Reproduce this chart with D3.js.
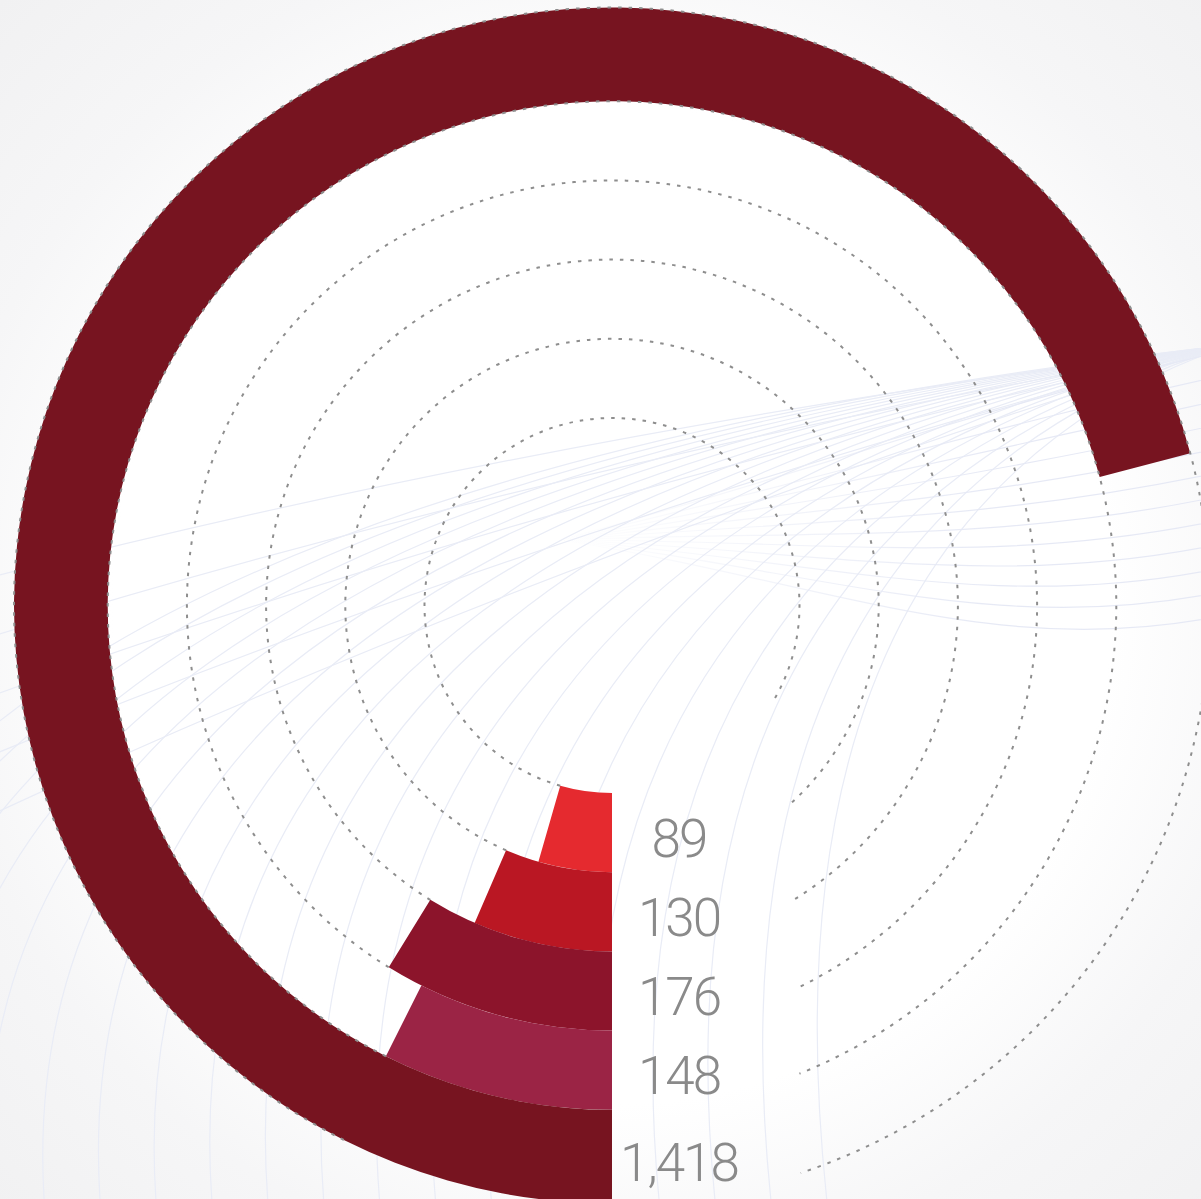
<!DOCTYPE html>
<html>
<head>
<meta charset="utf-8">
<script src="https://cdn.jsdelivr.net/npm/d3@7/dist/d3.min.js"></script>
<style>
  html, body { margin: 0; padding: 0; background: #f3f3f4; }
  svg { display: block; }
</style>
</head>
<body>
<svg id="chart" width="1201" height="1199"></svg>
<script>
/* ------------ Data ----------------*/
const categories = ['group1', 'group2', 'group3', 'group4', 'total'];
const values = [89, 130, 176, 148, 1418];
const colors = ['#e52a2f', '#ba1723', '#8c142b', '#9b2445', '#771420'];
const angleMax = 2000;

/* ------------ Layout ----------------*/
const width = 1201;
const height = 1199;
const cx = 612;
const cy = 605.5;
const innerR = 187.5;
const bandR = 583.5;
const outerR = 598;
const trackGap = 192; // px of arc left open near the labels

const svg = d3.select('#chart');
const defs = svg.append('defs');

const glow = defs.append('radialGradient')
  .attr('id', 'bgGlow')
  .attr('gradientUnits', 'userSpaceOnUse')
  .attr('cx', cx)
  .attr('cy', cy)
  .attr('r', 860);
glow.append('stop').attr('offset', '0%').attr('stop-color', '#ffffff');
glow.append('stop').attr('offset', '58%').attr('stop-color', '#ffffff');
glow.append('stop').attr('offset', '78%').attr('stop-color', '#f6f6f7');
glow.append('stop').attr('offset', '100%').attr('stop-color', '#f1f1f2');

const waveFade = defs.append('linearGradient')
  .attr('id', 'waveFade')
  .attr('gradientUnits', 'userSpaceOnUse')
  .attr('x1', 560).attr('y1', 0)
  .attr('x2', 1000).attr('y2', 0);
waveFade.append('stop').attr('offset', '0%').attr('stop-color', '#e6e9f5').attr('stop-opacity', 0);
waveFade.append('stop').attr('offset', '100%').attr('stop-color', '#e6e9f5').attr('stop-opacity', 1);

svg.append('rect')
  .attr('width', width)
  .attr('height', height)
  .attr('fill', 'url(#bgGlow)');

/* ------------ Background mesh ----------------*/
const mesh = svg.append('g')
  .attr('fill', 'none')
  .attr('stroke-width', 1.2);

// sweeping lines from the upper right down to the left / bottom
d3.range(0, 5).forEach(t => {
  const p = d3.path();
  p.moveTo(1230, 345);
  p.quadraticCurveTo(560, 430 + t * 30, -20, 580 + t * 60);
  mesh.append('path').attr('d', p.toString()).attr('stroke', '#e9ecf6');
});
d3.range(-300, 780, 56).forEach(x => {
  const p = d3.path();
  p.moveTo(1230, 345);
  p.quadraticCurveTo(x - 30, 520, x + 70, 1260);
  mesh.append('path').attr('d', p.toString()).attr('stroke', '#e9ecf6');
});
// soft horizontal waves on the right
d3.range(0, 12).forEach(j => {
  const p = d3.path();
  p.moveTo(560, 540);
  p.bezierCurveTo(820, 470 + j * 10, 1000, 400 + j * 24, 1230, 350 + j * 24);
  mesh.append('path').attr('d', p.toString()).attr('stroke', 'url(#waveFade)');
});

/* ------------ Scales ----------------*/
const angle = d3.scaleLinear()
  .domain([0, angleMax])
  .range([0, 2 * Math.PI]);

const radius = d3.scaleBand()
  .domain(categories)
  .range([innerR, bandR])
  .paddingInner(0)
  .paddingOuter(0);

const last = categories.length - 1;
const barInner = i => radius(categories[i]);
const barOuter = i => (i === last ? outerR : radius(categories[i]) + radius.bandwidth());
const endAngle = i => Math.PI + angle(values[i]);

const arc = d3.arc();

const chart = svg.append('g')
  .attr('transform', `translate(${cx},${cy})`);

/* ------------ Bars ----------------*/
chart.selectAll('path.bar')
  .data(values)
  .join('path')
  .attr('class', 'bar')
  .attr('fill', (d, i) => colors[i])
  .attr('d', (d, i) => arc({
    innerRadius: barInner(i),
    outerRadius: barOuter(i),
    startAngle: Math.PI,
    endAngle: endAngle(i)
  }));

/* ------------ Dotted tracks ----------------*/
// one track per band edge, starting where the neighbouring (non-total) bars stop
const edges = categories.map((c, i) => barInner(i)).concat([outerR]);
const trackStart = edges.map((r, k) => {
  const touching = [k - 1, k].filter(i => i >= 0 && i < last);
  const ends = touching.map(endAngle);
  return ends.length ? d3.max(ends) : endAngle(last - 1);
});

chart.selectAll('path.track')
  .data(edges)
  .join('path')
  .attr('class', 'track')
  .attr('fill', 'none')
  .attr('stroke', '#8e8e8e')
  .attr('stroke-width', 2)
  .attr('stroke-dasharray', '3.5 7')
  .attr('d', (r, k) => {
    const p = d3.path();
    const a0 = trackStart[k] - Math.PI / 2;
    const a1 = 3 * Math.PI - trackGap / r - Math.PI / 2;
    p.arc(0, 0, r, a0, a1, false);
    return p.toString();
  });

/* ------------ Labels ----------------*/
const fmt = d3.format(',');
chart.selectAll('text.value')
  .data(values)
  .join('text')
  .attr('class', 'value')
  .attr('x', 67)
  .attr('y', (d, i) => (barInner(i) + barOuter(i)) / 2 + 5)
  .attr('dy', '0.36em')
  .attr('text-anchor', 'middle')
  .attr('font-family', 'Roboto, "Open Sans", sans-serif')
  .attr('font-weight', 300)
  .attr('font-size', '53px')
  .attr('letter-spacing', -2)
  .attr('fill', '#8a8a8a')
  .text(d => fmt(d));
</script>
</body>
</html>
